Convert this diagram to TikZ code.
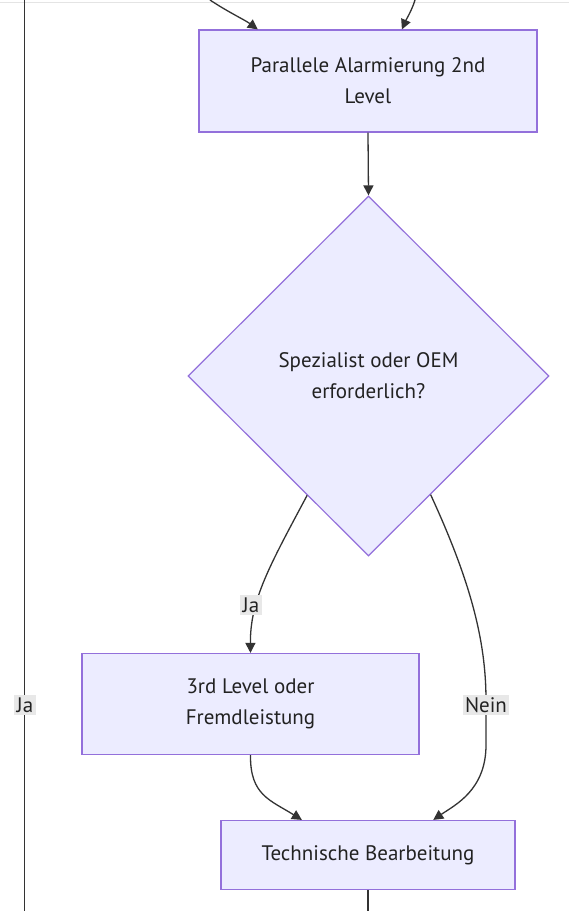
\documentclass[tikz,border=0pt]{standalone}
\usepackage{fontspec}
\setmainfont{PT Sans}
\usetikzlibrary{shapes.geometric,arrows.meta,calc}
\definecolor{nodefill}{HTML}{ECECFF}
\definecolor{nodeborder}{HTML}{9370DB}
\definecolor{linec}{HTML}{333333}
\definecolor{textc}{HTML}{222222}
\definecolor{lblbg}{HTML}{E8E8E8}
\definecolor{topline}{HTML}{E4E4E4}
\begin{document}
\begin{tikzpicture}[x=1pt,y=-1pt,
  every node/.style={font=\fontsize{21}{31}\selectfont, text=textc},
  box/.style={draw=nodeborder, fill=nodefill, line width=1.2pt, align=center, inner sep=0pt},
  decision/.style={diamond, aspect=1, draw=nodeborder, fill=nodefill, line width=1.2pt, align=center, inner sep=0pt},
  conn/.style={draw=linec, line width=1.3pt},
  arr/.style={conn, -{Triangle[length=10pt,width=10pt]}},
  lbl/.style={fill=lblbg, inner sep=2.5pt}
]
\useasboundingbox (0,0) rectangle (569,911);
\fill[white] (0,0) rectangle (569,911);
\draw[topline, line width=1.5pt] (0,2.5) -- (569,2.5);

% nodes
\node[box, minimum width=338pt, minimum height=102pt] (b1) at (368,81) {Parallele Alarmierung 2nd\\Level};
\node[decision, minimum width=361pt, minimum height=360pt] (d) at (368.5,376) {Spezialist oder OEM\\erforderlich?};
\node[box, minimum width=337pt, minimum height=101pt] (b2) at (250.5,704) {3rd Level oder\\Fremdleistung};
\node[box, minimum width=294pt, minimum height=69pt] (b3) at (368,855) {Technische Bearbeitung};

% free ends
\coordinate (t1) at (210,0);
\coordinate (t2) at (415,0);
\coordinate (L1) at (24.5,0);
\coordinate (L2) at (24.5,911);
\coordinate (bot) at (368,911);

% incoming arrows at top
\draw[arr] (t1) .. controls (228,12) and (245,20) .. ($(b1.north west)!0.175!(b1.north east)$);
\draw[arr] (t2) .. controls (412,10) and (406,20) .. ($(b1.north west)!0.600!(b1.north east)$);

% left line with label
\draw[conn] (L1) -- (L2);
\node[lbl] (jaLeft) at (25,705) {Ja};

% box1 -> diamond
\draw[arr] (b1.south) -- (d.north);

% diamond -> box2 (Ja)
\draw[arr] ($(d.west)!0.661!(d.south)$) .. controls (270,565) and (250,600) .. (b2.north);
\node[lbl] (jaLbl) at (251,605) {Ja};

% diamond -> box3 (Nein)
\draw[arr] ($(d.east)!0.657!(d.south)$) .. controls (470,580) and (486,640) .. (486,700)
  -- (486,745) .. controls (486,790) and (455,805) .. ($(b3.north west)!0.721!(b3.north east)$);
\node[lbl] (neinLbl) at (486,705) {Nein};

% box2 -> box3
\draw[arr] (b2.south) .. controls (250,795) and (270,800) .. ($(b3.north west)!0.276!(b3.north east)$);

% box3 -> down
\draw[conn] (b3.south) -- (bot);
\end{tikzpicture}
\end{document}
